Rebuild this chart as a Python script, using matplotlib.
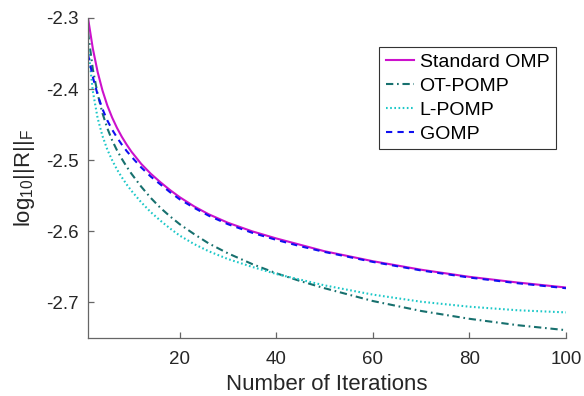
import matplotlib
matplotlib.use("Agg")
import matplotlib.pyplot as plt

plt.rcParams['font.family'] = ['Liberation Sans', 'DejaVu Sans']
plt.rcParams['mathtext.fontset'] = 'custom'
plt.rcParams['mathtext.rm'] = 'Liberation Sans'
plt.rcParams['mathtext.it'] = 'Liberation Sans'
plt.rcParams['axes.unicode_minus'] = False

iterations = [1, 2, 3, 4, 5, 6, 7, 8, 9, 10, 12, 14, 16, 18, 20, 23, 26, 30, 35, 40, 45, 50,
              60, 70, 80, 90, 100]

standard_omp = [-2.300, -2.343, -2.376, -2.402, -2.423, -2.440, -2.4545, -2.467, -2.478, -2.488,
                -2.505, -2.519, -2.531, -2.542, -2.552, -2.565, -2.576, -2.588, -2.600, -2.610,
                -2.619, -2.628, -2.642, -2.654, -2.664, -2.672, -2.679]
ot_pomp = [-2.320, -2.372, -2.407, -2.434, -2.455, -2.472, -2.486, -2.498, -2.509, -2.519,
           -2.537, -2.553, -2.567, -2.579, -2.590, -2.604, -2.617, -2.631, -2.646, -2.659,
           -2.670, -2.680, -2.698, -2.712, -2.723, -2.732, -2.739]
l_pomp = [-2.339, -2.403, -2.441, -2.466, -2.485, -2.500, -2.513, -2.524, -2.534, -2.543,
          -2.559, -2.573, -2.585, -2.596, -2.606, -2.618, -2.628, -2.639, -2.650, -2.660,
          -2.668, -2.676, -2.689, -2.699, -2.706, -2.711, -2.714]
gomp = [-2.351, -2.383, -2.408, -2.428, -2.444, -2.457, -2.468, -2.478, -2.487, -2.495,
        -2.510, -2.523, -2.534, -2.545, -2.555, -2.567, -2.578, -2.590, -2.602, -2.612,
        -2.621, -2.629, -2.643, -2.655, -2.665, -2.673, -2.680]

series_labels = ['Standard OMP', 'OT-POMP', 'L-POMP', 'GOMP']
x_ticks = [20, 40, 60, 80, 100]
y_ticks = [-2.3, -2.4, -2.5, -2.6, -2.7]

fig = plt.figure(figsize=(5.84, 3.96), dpi=100)
ax = fig.add_axes([88/584, 1-338/396, (566-88)/584, (338-18)/396])

ax.plot(iterations, standard_omp, color='#CC11CC', lw=1.5, label=series_labels[0])
ax.plot(iterations, ot_pomp, color='#17706E', lw=1.5, dashes=[3.5, 1.8, 0.8, 1.8], label=series_labels[1])
ax.plot(iterations, l_pomp, color='#1CC8C8', lw=1.5, dashes=[0.8, 1.2], label=series_labels[2])
ax.plot(iterations, gomp, color='#1010F0', lw=1.5, dashes=[3.0, 2.5], label=series_labels[3])

ax.set_xlim(1, 100)
ax.set_ylim(-2.75, -2.3)
ax.set_xticks(x_ticks)
ax.set_yticks(y_ticks)
ax.set_yticklabels([f'{v:.1f}' for v in y_ticks])

for s in ['top', 'right']:
    ax.spines[s].set_visible(False)
for s in ['left', 'bottom']:
    ax.spines[s].set_color('#666666')
    ax.spines[s].set_linewidth(0.9)
ax.tick_params(direction='in', length=4, width=0.9, color='#666666',
               labelsize=13.5, labelcolor='#262626')
ax.tick_params(axis='x', pad=9.5)
ax.tick_params(axis='y', pad=7)

ax.set_xlabel('Number of Iterations', fontsize=16, color='#262626', labelpad=4)
ax.set_ylabel(r'log$_{10}$||R||$_{\mathrm{F}}$', fontsize=16, color='#262626', labelpad=6)

leg = ax.legend(loc='upper right', bbox_to_anchor=(556/584, 1-46.7/396),
                bbox_transform=fig.transFigure, fontsize=14, frameon=True,
                fancybox=False, framealpha=1, edgecolor='#333333',
                handlelength=1.45, handletextpad=0.3, labelspacing=0.32,
                borderpad=0.35, borderaxespad=0)
leg.get_frame().set_linewidth(0.8)

fig.savefig('out.png', dpi=100)
